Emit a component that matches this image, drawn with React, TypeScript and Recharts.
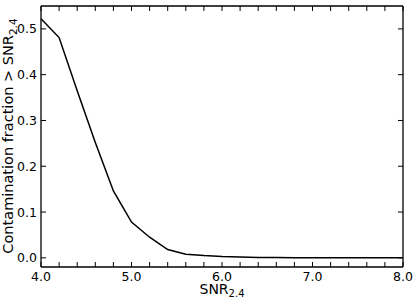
// Contamination fraction vs SNR threshold
import { LineChart, Line, XAxis, YAxis } from 'recharts'

const snr = [4.0, 4.2, 4.4, 4.6, 4.8, 5.0, 5.2, 5.4, 5.6, 5.8, 6.0, 6.2, 6.4, 6.6, 6.8, 7.0, 7.2, 7.4, 7.6, 7.8, 8.0]
const contamination = [0.522, 0.481, 0.365, 0.252, 0.146, 0.078, 0.045, 0.018, 0.008, 0.005, 0.003, 0.002, 0.001, 0.0005, 0, 0, 0, 0, 0, 0, 0]

const xTicks = [4.0, 4.2, 4.4, 4.6, 4.8, 5.0, 5.2, 5.4, 5.6, 5.8, 6.0, 6.2, 6.4, 6.6, 6.8, 7.0, 7.2, 7.4, 7.6, 7.8, 8.0]
const xLabels = [4.0, 5.0, 6.0, 7.0, 8.0]
const yTicks = [0.0, 0.1, 0.2, 0.3, 0.4, 0.5]

const data = snr.map((x, i) => ({ x, y: contamination[i] }))

const FONT = '"DejaVu Sans", sans-serif'
const TICK_LEN = 5

function BottomTick(props: any) {
  const { x, y, payload } = props
  const v = payload.value
  const labelled = xLabels.some((l) => Math.abs(l - v) < 1e-6)
  return (
    <g>
      <line x1={x} x2={x} y1={y} y2={y - TICK_LEN} stroke="#000" strokeWidth={1} />
      {labelled && (
        <text x={x} y={y + 14} textAnchor="middle" fontSize={12.5} fontFamily={FONT} fill="#000">
          {v.toFixed(1)}
        </text>
      )}
    </g>
  )
}

function TopTick(props: any) {
  const { x, y } = props
  return <line x1={x} x2={x} y1={y} y2={y + TICK_LEN} stroke="#000" strokeWidth={1} />
}

function LeftTick(props: any) {
  const { x, y, payload } = props
  return (
    <g>
      <line x1={x} x2={x + TICK_LEN} y1={y} y2={y} stroke="#000" strokeWidth={1} />
      <text x={x - 4} y={y} dy="0.36em" textAnchor="end" fontSize={12.5} fontFamily={FONT} fill="#000">
        {payload.value.toFixed(1)}
      </text>
    </g>
  )
}

function RightTick(props: any) {
  const { x, y } = props
  return <line x1={x} x2={x - TICK_LEN} y1={y} y2={y} stroke="#000" strokeWidth={1} />
}

export default function App() {
  return (
    <div style={{ position: 'absolute', left: 0, top: 0, width: 415, height: 300, background: '#fff' }}>
      <LineChart width={415} height={300} data={data} margin={{ top: 0, right: 0, bottom: 0, left: 0 }}>
        <XAxis
          xAxisId="bottom"
          dataKey="x"
          type="number"
          domain={[4, 8]}
          ticks={xTicks}
          interval={0}
          height={33}
          tickSize={0}
          tickMargin={0}
          tickLine={false}
          axisLine={{ stroke: '#000', strokeWidth: 1.3 }}
          tick={BottomTick}
        />
        <XAxis
          xAxisId="top"
          orientation="top"
          dataKey="x"
          type="number"
          domain={[4, 8]}
          ticks={xTicks}
          interval={0}
          height={6}
          tickSize={0}
          tickMargin={0}
          tickLine={false}
          axisLine={{ stroke: '#000', strokeWidth: 1.3 }}
          tick={TopTick}
        />
        <YAxis
          yAxisId="left"
          type="number"
          domain={[-0.02, 0.55]}
          allowDataOverflow
          ticks={yTicks}
          interval={0}
          width={41}
          tickSize={0}
          tickMargin={0}
          tickLine={false}
          axisLine={{ stroke: '#000', strokeWidth: 1.3 }}
          tick={LeftTick}
        />
        <YAxis
          yAxisId="right"
          orientation="right"
          type="number"
          domain={[-0.02, 0.55]}
          allowDataOverflow
          ticks={yTicks}
          interval={0}
          width={12}
          tickSize={0}
          tickMargin={0}
          tickLine={false}
          axisLine={{ stroke: '#000', strokeWidth: 1.3 }}
          tick={RightTick}
        />
        <Line
          xAxisId="bottom"
          yAxisId="left"
          type="linear"
          dataKey="y"
          stroke="#000"
          strokeWidth={1.5}
          dot={false}
          isAnimationActive={false}
        />
        <Line
          xAxisId="top"
          yAxisId="right"
          type="linear"
          dataKey="y"
          stroke="none"
          dot={false}
          isAnimationActive={false}
        />
        <text x={222} y={293.5} textAnchor="middle" fontSize={14} fontFamily={FONT} fill="#000">
          SNR
          <tspan fontSize={10} dy={3.5}>2.4</tspan>
        </text>
        <text
          transform="rotate(-90)"
          x={-136}
          y={13}
          textAnchor="middle"
          fontSize={14.5}
          fontFamily={FONT}
          fill="#000"
        >
          Contamination fraction &gt; SNR
          <tspan fontSize={10.5} dy={4}>2.4</tspan>
        </text>
      </LineChart>
    </div>
  )
}
